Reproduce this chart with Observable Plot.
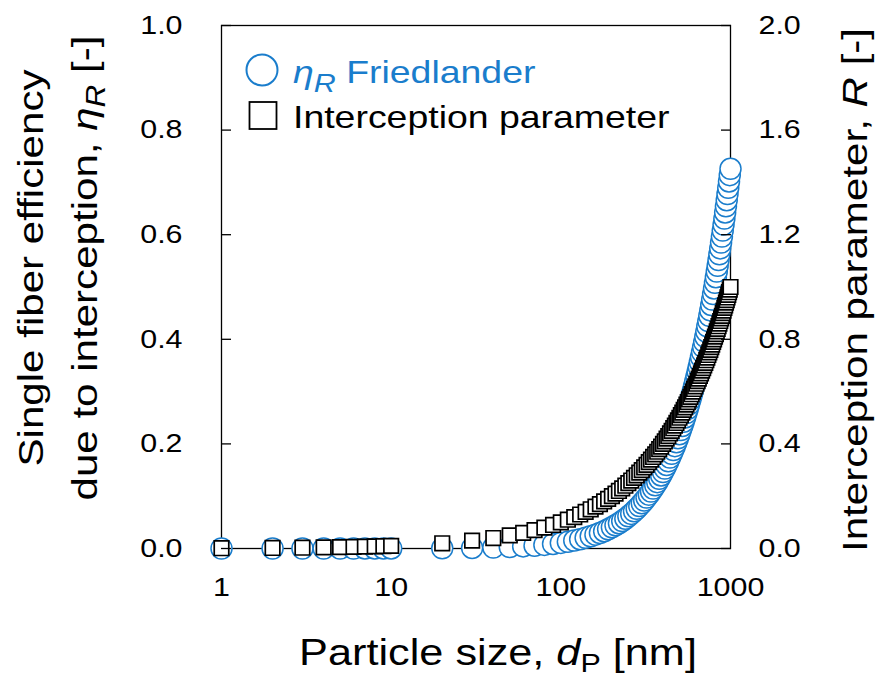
<!DOCTYPE html>
<html><head><meta charset="utf-8">
<script src="https://cdn.jsdelivr.net/npm/d3@7"></script>
<script src="https://cdn.jsdelivr.net/npm/@observablehq/plot@0.6"></script>
<style>body{margin:0;background:#fff;} svg{display:block}</style>
</head><body><div id="chart"></div>
<script>
// particle size d_P [nm]
const sizes = [1,2,3,4,5,6,7,8,9,
 10,20,30,40,50,60,70,80,90,100,
 110,120,130,140,150,160,170,180,190,200,
 210,220,230,240,250,260,270,280,290,300,
 310,320,330,340,350,360,370,380,390,400,
 410,420,430,440,450,460,470,480,490,500,
 510,520,530,540,550,560,570,580,590,600,
 610,620,630,640,650,660,670,680,690,700,
 710,720,730,740,750,760,770,780,790,800,
 810,820,830,840,850,860,870,880,890,900,
 910,920,930,940,950,960,970,980,990,1000];
// interception parameter R [-] (right axis)
const interceptionR = [0.001,0.002,0.003,0.004,0.005,0.006,0.007,0.008,0.009,
 0.01,0.02,0.03,0.04,0.05,0.06,0.07,0.08,0.09,0.10,
 0.11,0.12,0.13,0.14,0.15,0.16,0.17,0.18,0.19,0.20,
 0.21,0.22,0.23,0.24,0.25,0.26,0.27,0.28,0.29,0.30,
 0.31,0.32,0.33,0.34,0.35,0.36,0.37,0.38,0.39,0.40,
 0.41,0.42,0.43,0.44,0.45,0.46,0.47,0.48,0.49,0.50,
 0.51,0.52,0.53,0.54,0.55,0.56,0.57,0.58,0.59,0.60,
 0.61,0.62,0.63,0.64,0.65,0.66,0.67,0.68,0.69,0.70,
 0.71,0.72,0.73,0.74,0.75,0.76,0.77,0.78,0.79,0.80,
 0.81,0.82,0.83,0.84,0.85,0.86,0.87,0.88,0.89,0.90,
 0.91,0.92,0.93,0.94,0.95,0.96,0.97,0.98,0.99,1.00];
// single fiber efficiency due to interception, eta_R (Friedlander) [-] (left axis)
const etaFriedlander = [0.0000,0.0000,0.0000,0.0000,0.0000,0.0000,0.0001,0.0001,0.0001,
 0.0001,0.0005,0.0010,0.0018,0.0028,0.0040,0.0054,0.0069,0.0087,0.0107,
 0.0129,0.0152,0.0178,0.0205,0.0234,0.0265,0.0297,0.0331,0.0367,0.0405,
 0.0444,0.0484,0.0526,0.0570,0.0615,0.0662,0.0710,0.0760,0.0811,0.0864,
 0.0918,0.0973,0.1030,0.1088,0.1147,0.1208,0.1269,0.1333,0.1397,0.1463,
 0.1530,0.1598,0.1667,0.1738,0.1810,0.1882,0.1957,0.2032,0.2108,0.2185,
 0.2264,0.2343,0.2424,0.2506,0.2589,0.2672,0.2757,0.2843,0.2930,0.3018,
 0.3107,0.3197,0.3288,0.3379,0.3472,0.3566,0.3661,0.3756,0.3853,0.3950,
 0.4048,0.4147,0.4248,0.4348,0.4450,0.4553,0.4657,0.4761,0.4866,0.4972,
 0.5079,0.5187,0.5296,0.5405,0.5515,0.5626,0.5738,0.5850,0.5964,0.6078,
 0.6193,0.6308,0.6425,0.6542,0.6660,0.6778,0.6898,0.7018,0.7139,0.7260];

const xTicks = [1, 10, 100, 1000];
const leftTicks = [0, 0.2, 0.4, 0.6, 0.8, 1.0];
const rightTicks = [0, 0.4, 0.8, 1.2, 1.6, 2.0];

const blue = "#1a7dcc";
const STRETCH = 1.17;

const rows = sizes.map((d, i) => ({d, R: interceptionR[i], eta: etaFriedlander[i]}));

const chart = Plot.plot({
  width: 885, height: 682,
  marginLeft: 221, marginRight: 155, marginTop: 25, marginBottom: 134,
  style: {fontFamily: "'Liberation Sans', Arial, sans-serif", fontSize: "26px", color: "#000", background: "#fff", overflow: "visible"},
  x: {type: "log", domain: [1, 1000], label: null},
  y: {domain: [0, 1], label: null},
  marks: [
    Plot.frame({stroke: "#000", strokeWidth: 1.3}),
    Plot.dot(rows, {x: "d", y: "eta", r: 10.5, symbol: "circle", stroke: blue, strokeWidth: 1.5, fill: "#fff"}),
    Plot.dot(rows, {x: "d", y: r => r.R / 2, r: 8.2, symbol: "square", stroke: "#000", strokeWidth: 1.7, fill: "#fff"}),
    Plot.axisX({ticks: xTicks, tickFormat: d => String(d), tickSize: 0, tickPadding: 29, label: null}),
    Plot.axisY({anchor: "left", ticks: leftTicks, tickFormat: d => d.toFixed(1), tickSize: -10, tickPadding: 49, strokeWidth: 1.3, label: null}),
    Plot.axisY({anchor: "right", ticks: leftTicks, tickFormat: d => rightTicks[leftTicks.indexOf(d)].toFixed(1), tickSize: -10, tickPadding: 38, strokeWidth: 1.3, label: null})
  ]
});

document.getElementById("chart").appendChild(chart);

// widen glyphs along the reading direction (reference font is wide)
d3.select(chart).selectAll("text").each(function() {
  const t = this.getAttribute("transform") || "";
  this.setAttribute("transform", t + ` scale(${STRETCH},1)`);
});

const svg = d3.select(chart);
const ff = "'Liberation Sans', Arial, sans-serif";

function addText(x, y, rot, size, anchor, parts, fill = "#000") {
  const t = svg.append("text")
    .attr("transform", `translate(${x},${y})${rot ? ` rotate(${rot})` : ""} scale(${STRETCH},1)`)
    .attr("font-family", ff).attr("font-size", size).attr("text-anchor", anchor).attr("fill", fill);
  parts.forEach(p => {
    const s = t.append("tspan").text(p.text);
    if (p.italic) s.attr("font-style", "italic");
    if (p.size) s.attr("font-size", p.size);
    if (p.dy) s.attr("dy", p.dy);
    if (p.fill) s.attr("fill", p.fill);
  });
  return t;
}

// x-axis title
addText(498, 665, 0, 37, "middle", [
  {text: "Particle size, "}, {text: "d", italic: true}, {text: "P", size: 26, dy: 7}, {text: " [nm]", dy: -7}
]);
// left title, two lines
addText(43, 268, -90, 36, "middle", [{text: "Single fiber efficiency"}]);
addText(97, 268, -90, 36, "middle", [
  {text: "due to interception, "}, {text: "η", italic: true}, {text: "R", italic: true, size: 27, dy: 8}, {text: " [-]", dy: -8}
]);
// right title
addText(867, 290, -90, 36, "middle", [
  {text: "Interception parameter, "}, {text: "R", italic: true}, {text: " [-]"}
]);

// legend
svg.append("circle").attr("cx", 262).attr("cy", 70).attr("r", 15.5)
  .attr("fill", "none").attr("stroke", blue).attr("stroke-width", 2);
addText(293, 83, 0, 32, "start", [
  {text: "η", italic: true}, {text: "R", italic: true, size: 26, dy: 9}, {text: " Friedlander", dy: -9}
], blue);
svg.append("rect").attr("x", 249.5).attr("y", 102).attr("width", 27).attr("height", 27)
  .attr("fill", "#fff").attr("stroke", "#000").attr("stroke-width", 1.8);
addText(293, 128, 0, 32, "start", [{text: "Interception parameter"}]);
</script>
</body></html>
